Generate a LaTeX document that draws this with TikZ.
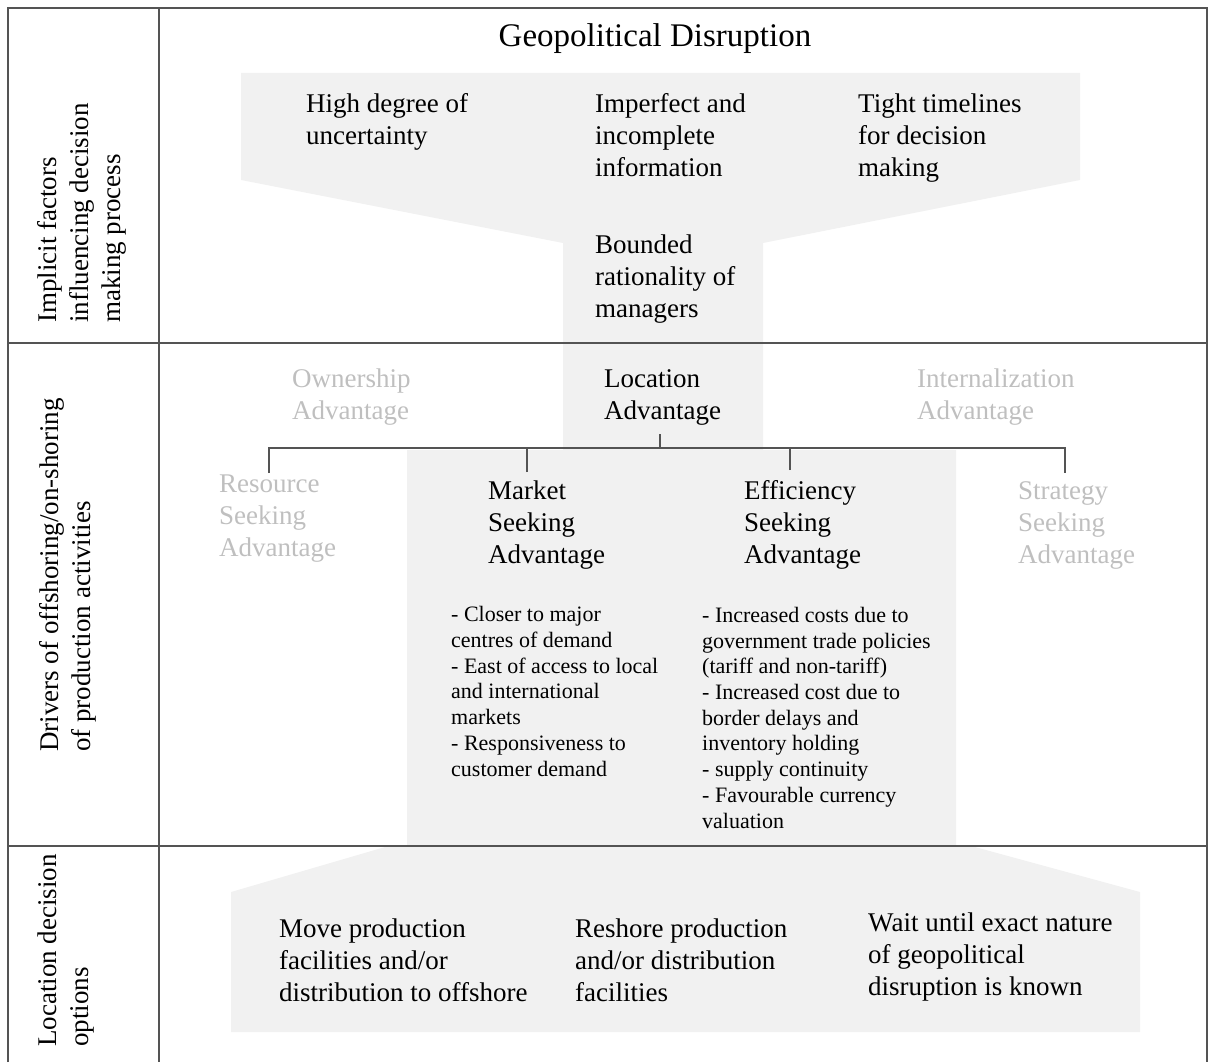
\documentclass[tikz,border=0pt]{standalone}
\usepackage{fontspec}
\setmainfont{Liberation Serif}
\usetikzlibrary{positioning}

\definecolor{panel}{gray}{0.945}
\definecolor{faint}{gray}{0.75}
\definecolor{rulegray}{gray}{0.33}

% nodes sit on the baseline of their last line
\tikzset{
  body/.style={font=\fontsize{27}{32}\selectfont, align=left, inner sep=0pt, anchor=base west},
  faded/.style={body, text=faint},
  bullets/.style={font=\fontsize{22}{25.7}\selectfont, align=left, inner sep=0pt, anchor=base west},
  rowlabel/.style={font=\fontsize{27}{32}\selectfont, align=left, inner sep=0pt, rotate=90, anchor=north west},
  frame/.style={rulegray, line width=2pt},
  tree/.style={rulegray, line width=1.6pt},
}

\begin{document}
\begin{tikzpicture}[x=1pt,y=-1pt]
  \useasboundingbox (0,0) rectangle (1209,1062);

  % grey funnel running through all three rows
  \fill[panel] (241,73) -- (1080,73) -- (1080,180) -- (763,243) -- (763,450)
    -- (956,450) -- (956,847) -- (975,847) -- (1140,892) -- (1140,1032)
    -- (231,1032) -- (231,892) -- (385,847) -- (407,847) -- (407,450)
    -- (563,450) -- (563,243) -- (241,180) -- cycle;

  % table rules
  \draw[frame] (8,1062) -- (8,8) -- (1207,8) -- (1207,1062);
  \draw[frame] (159,8) -- (159,1062);
  \draw[frame] (8,343) -- (1207,343);
  \draw[frame] (8,846) -- (1207,846);

  % row headings
  \node[rowlabel] (implicit) at (37,323) {Implicit factors\\influencing decision\\making process};
  \node[rowlabel] (drivers) at (39,752) {Drivers of offshoring/on-shoring\\of production activities};
  \node[rowlabel] (options) at (38,1047) {Location decision\\options};

  % top row
  \node[font=\fontsize{33}{40}\selectfont, inner sep=0pt, anchor=base] (geo) at (655,47) {Geopolitical Disruption};
  \node[body] (uncert) at (306,144) {High degree of\\uncertainty};
  \node[body] (info) at (595,176) {Imperfect and\\incomplete\\information};
  \node[body] (time) at (858,176) {Tight timelines\\for decision\\making};
  \node[body] (bounded) at (595,317) {Bounded\\rationality of\\managers};

  % middle row
  \node[faded] (own) at (292,419) {Ownership\\Advantage};
  \node[body] (loc) at (604,419) {Location\\Advantage};
  \node[faded] (intern) at (917,419) {Internalization\\Advantage};
  \node[faded] (resource) at (219,556) {Resource\\Seeking\\Advantage};
  \node[body] (market) at (488,563) {Market\\Seeking\\Advantage};
  \node[body] (effic) at (744,563) {Efficiency\\Seeking\\Advantage};
  \node[faded] (strat) at (1018,563) {Strategy\\Seeking\\Advantage};

  \node[bullets] (mkt-list) at (451,776) {- Closer to major\\centres of demand\\- East of access to local\\and international\\markets\\- Responsiveness to\\customer demand};
  \node[bullets] (eff-list) at (702,828) {- Increased costs due to\\government trade policies\\(tariff and non-tariff)\\- Increased cost due to\\border delays and\\inventory holding\\- supply continuity\\- Favourable currency\\valuation};

  % tree under location advantage
  \coordinate (hub) at (660,448);
  \coordinate (res-top) at (269,473);
  \coordinate (mkt-top) at (527,472);
  \coordinate (eff-top) at (790,470);
  \coordinate (str-top) at (1065,473);
  \draw[tree] (res-top) |- (str-top |- hub) -- (str-top);
  \draw[tree] (mkt-top) -- (mkt-top |- hub);
  \draw[tree] (eff-top) -- (eff-top |- hub);
  \draw[tree] (hub) -- ++(0,-14);

  % bottom row
  \node[body] (move) at (279,1001) {Move production\\facilities and/or\\distribution to offshore};
  \node[body] (reshore) at (575,1001) {Reshore production\\and/or distribution\\facilities};
  \node[body] (wait) at (868,995) {Wait until exact nature\\of geopolitical\\disruption is known};
\end{tikzpicture}
\end{document}
